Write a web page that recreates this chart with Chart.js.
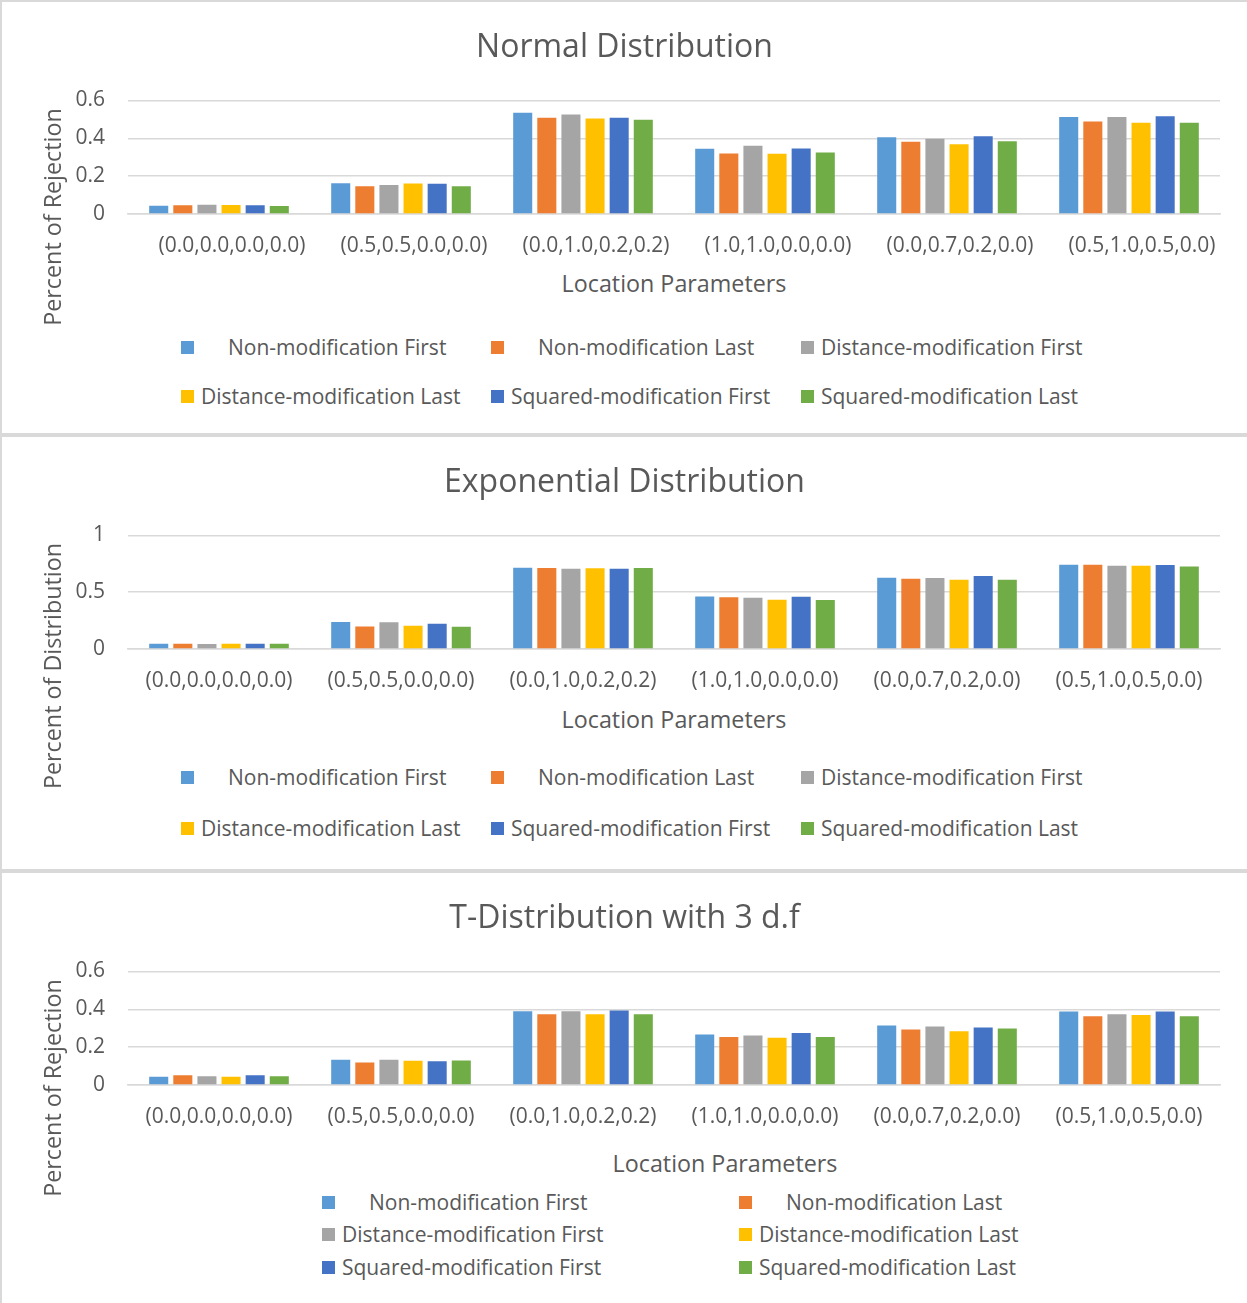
<!DOCTYPE html>
<html>
<head>
<meta charset="utf-8">
<script src="https://cdn.jsdelivr.net/npm/chart.js@4.4.1/dist/chart.umd.min.js"></script>
<style>
    body { margin: 0; background: #fff; overflow: hidden; font-family: 'Open Sans', sans-serif; color: #595959; }
    #page { position: relative; width: 1247px; height: 1303px; overflow: hidden; }
    .panel { position: absolute; left: 0; width: 1260px; box-sizing: border-box; border: 2px solid #d9d9d9; background: #fff; }
    .panel canvas { position: absolute; left: 0; top: 0; }
    .ytitle { position: absolute; width: 320px; height: 30px; line-height: 30px; text-align: center; font-size: 23.3px; transform: rotate(-90deg); white-space: nowrap; }
    .xtitle { position: absolute; width: 400px; height: 30px; line-height: 30px; text-align: center; font-size: 23.3px; white-space: nowrap; }
    .legend-item { position: absolute; height: 28px; line-height: 28px; font-size: 21px; white-space: nowrap; }
    .legend-item span.box { position: absolute; left: 0; top: 8px; width: 13px; height: 13px; }
</style>
</head>
<body>
<div id="page"></div>
<script>
"use strict";

// Categories and series shared by all three charts
const categories = ['(0.0,0.0,0.0,0.0)', '(0.5,0.5,0.0,0.0)', '(0.0,1.0,0.2,0.2)', '(1.0,1.0,0.0,0.0)', '(0.0,0.7,0.2,0.0)', '(0.5,1.0,0.5,0.0)'];
const seriesNames = ['Non-modification First', 'Non-modification Last', 'Distance-modification First', 'Distance-modification Last', 'Squared-modification First', 'Squared-modification Last'];
const seriesColors = ['#5B9BD5', '#ED7D31', '#A5A5A5', '#FFC000', '#4472C4', '#70AD47'];

// Normal distribution
const normalNonModFirst  = [0.044, 0.163, 0.535, 0.344, 0.405, 0.512];
const normalNonModLast   = [0.046, 0.147, 0.509, 0.319, 0.382, 0.489];
const normalDistFirst    = [0.049, 0.153, 0.526, 0.361, 0.398, 0.512];
const normalDistLast     = [0.047, 0.161, 0.504, 0.318, 0.368, 0.482];
const normalSquaredFirst = [0.046, 0.160, 0.509, 0.346, 0.411, 0.516];
const normalSquaredLast  = [0.042, 0.147, 0.498, 0.325, 0.384, 0.482];

// Exponential distribution
const expNonModFirst  = [0.047, 0.238, 0.716, 0.463, 0.628, 0.742];
const expNonModLast   = [0.047, 0.199, 0.713, 0.455, 0.619, 0.742];
const expDistFirst    = [0.045, 0.235, 0.707, 0.452, 0.625, 0.733];
const expDistLast     = [0.047, 0.205, 0.710, 0.434, 0.610, 0.733];
const expSquaredFirst = [0.047, 0.223, 0.707, 0.460, 0.642, 0.739];
const expSquaredLast  = [0.047, 0.196, 0.713, 0.431, 0.610, 0.727];

// T-distribution, 3 d.f
const tNonModFirst  = [0.044, 0.133, 0.389, 0.267, 0.314, 0.388];
const tNonModLast   = [0.051, 0.119, 0.374, 0.253, 0.293, 0.363];
const tDistFirst    = [0.046, 0.133, 0.389, 0.261, 0.309, 0.374];
const tDistLast     = [0.044, 0.128, 0.374, 0.249, 0.284, 0.370];
const tSquaredFirst = [0.051, 0.126, 0.393, 0.274, 0.304, 0.388];
const tSquaredLast  = [0.046, 0.130, 0.374, 0.253, 0.298, 0.363];

// Y axis ranges
const normalAxis = {max: 0.6, step: 0.2};
const expAxis = {max: 1, step: 0.5};
const tAxis = {max: 0.6, step: 0.2};

const charts = [
    {
        top: 0, height: 435,
        title: 'Normal Distribution', yTitle: 'Percent of Rejection', yTitleY: 217,
        xTitleX: 674, xTitleY: 283, labelOffset: 13,
        axis: normalAxis,
        series: [normalNonModFirst, normalNonModLast, normalDistFirst, normalDistLast, normalSquaredFirst, normalSquaredLast],
        legendCols: [181, 491, 801], legendRows: [347, 396]
    },
    {
        top: 435, height: 436,
        title: 'Exponential Distribution', yTitle: 'Percent of Distribution', yTitleY: 666,
        xTitleX: 674, xTitleY: 719, labelOffset: 0,
        axis: expAxis,
        series: [expNonModFirst, expNonModLast, expDistFirst, expDistLast, expSquaredFirst, expSquaredLast],
        legendCols: [181, 491, 801], legendRows: [777, 828]
    },
    {
        top: 871, height: 436,
        title: 'T-Distribution with 3 d.f', yTitle: 'Percent of Rejection', yTitleY: 1088,
        xTitleX: 725, xTitleY: 1163, labelOffset: 0,
        axis: tAxis,
        series: [tNonModFirst, tNonModLast, tDistFirst, tDistLast, tSquaredFirst, tSquaredLast],
        legendCols: [322, 739], legendRows: [1202, 1234, 1267]
    }
];

const page = document.getElementById('page');
const font = "'Open Sans', sans-serif";

charts.forEach(cfg => {
    const panel = document.createElement('div');
    panel.className = 'panel';
    panel.style.top = cfg.top + 'px';
    panel.style.height = cfg.height + 'px';
    page.appendChild(panel);

    const canvas = document.createElement('canvas');
    canvas.width = 1245;
    canvas.height = 262;
    canvas.style.width = '1245px';
    canvas.style.height = '262px';
    panel.appendChild(canvas);

    // axis titles
    const yTitle = document.createElement('div');
    yTitle.className = 'ytitle';
    yTitle.textContent = cfg.yTitle;
    yTitle.style.left = (52 - 160) + 'px';
    yTitle.style.top = (cfg.yTitleY - 15) + 'px';
    page.appendChild(yTitle);

    const xTitle = document.createElement('div');
    xTitle.className = 'xtitle';
    xTitle.textContent = 'Location Parameters';
    xTitle.style.left = (cfg.xTitleX - 200) + 'px';
    xTitle.style.top = (cfg.xTitleY - 15) + 'px';
    page.appendChild(xTitle);

    // legend, laid out in columns like the original
    const nCols = cfg.legendCols.length;
    seriesNames.forEach((name, i) => {
        const item = document.createElement('div');
        item.className = 'legend-item';
        const col = i % nCols;
        const row = Math.floor(i / nCols);
        item.style.left = cfg.legendCols[col] + 'px';
        item.style.top = (cfg.legendRows[row] - 14) + 'px';
        // first two entries sit further from their marker
        item.style.paddingLeft = (i < 2 ? 47 : 20) + 'px';
        const box = document.createElement('span');
        box.className = 'box';
        box.style.background = seriesColors[i];
        item.appendChild(box);
        item.appendChild(document.createTextNode(name));
        page.appendChild(item);
    });

    new Chart(canvas.getContext('2d'), {
        type: 'bar',
        data: {
            labels: categories,
            datasets: cfg.series.map((values, i) => ({
                label: seriesNames[i],
                data: values,
                backgroundColor: seriesColors[i],
                categoryPercentage: 0.795,
                barPercentage: 0.79
            }))
        },
        options: {
            responsive: false,
            animation: false,
            devicePixelRatio: 1,
            layout: {
                padding: 0
            },
            plugins: {
                legend: {display: false},
                tooltip: {enabled: false},
                title: {
                    display: true,
                    text: cfg.title,
                    color: '#595959',
                    font: {family: font, size: 32, weight: 'normal', lineHeight: 1.2},
                    padding: {top: 27, bottom: 33}
                }
            },
            scales: {
                x: {
                    grid: {display: false},
                    border: {display: true, color: '#d9d9d9', width: 1.5},
                    ticks: {
                        color: '#595959',
                        font: {family: font, size: 21},
                        padding: 11,
                        maxRotation: 0,
                        autoSkip: false,
                        labelOffset: cfg.labelOffset
                    },
                    afterFit: scale => { scale.height = 50; }
                },
                y: {
                    min: 0,
                    max: cfg.axis.max,
                    grid: {color: '#d9d9d9', lineWidth: 1.5, drawTicks: false},
                    border: {display: false},
                    ticks: {
                        stepSize: cfg.axis.step,
                        color: '#595959',
                        font: {family: font, size: 21},
                        padding: 23,
                        callback: value => String(Math.round(value * 10) / 10)
                    },
                    afterFit: scale => { scale.width = 126; }
                },
                // empty right-hand margin so the title stays centred on the panel
                spacer: {
                    type: 'linear',
                    position: 'right',
                    display: true,
                    grid: {display: false},
                    border: {display: false},
                    ticks: {display: false},
                    afterFit: scale => { scale.width = 27; }
                }
            }
        }
    });
});
</script>
</body>
</html>
